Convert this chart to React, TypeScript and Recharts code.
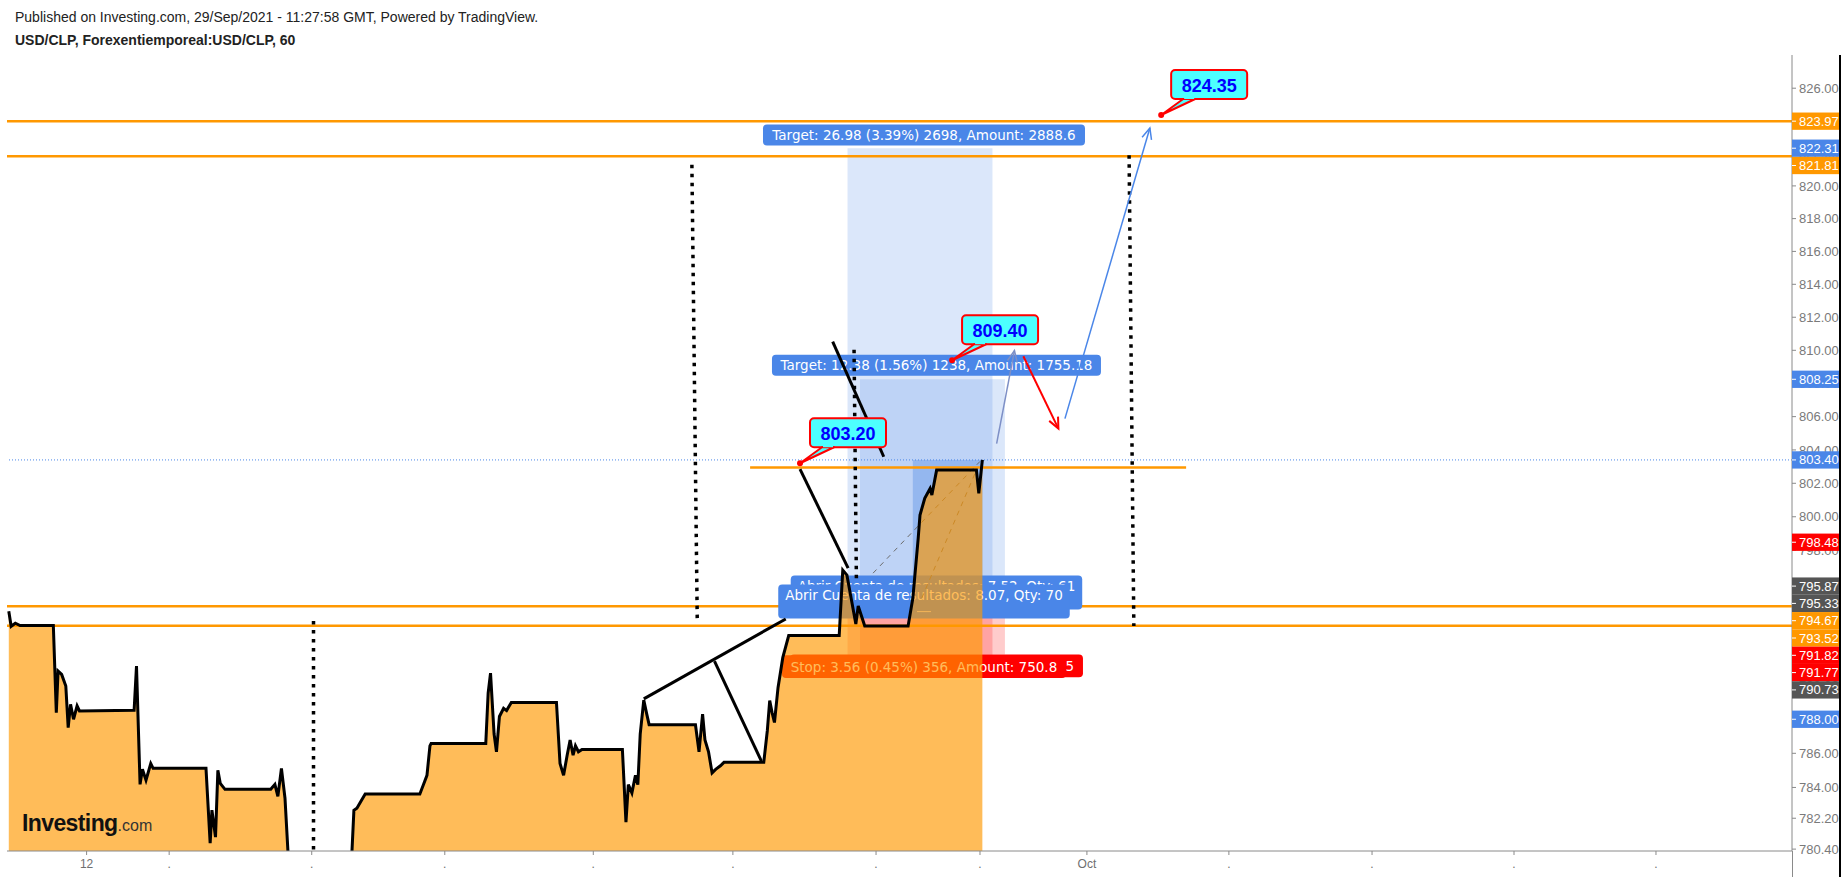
import React from 'react';
import {
  ComposedChart,
  Area,
  XAxis,
  YAxis,
  ReferenceLine,
  ReferenceArea,
  ReferenceDot,
} from 'recharts';

// ---------------- data ----------------
// time in hours since the first bar of the visible range
const hours = [
  0.3, 0.7, 1.4, 2.2, 7.8, 8.3, 8.6, 9.2, 9.9, 10.3, 10.7, 11.2, 11.8, 12.2, 21.4, 21.8, 22.4, 22.8, 23.4,
  24.2, 24.6, 33.5, 34.2, 34.5, 35.1, 35.5, 35.9, 36.7, 44.4, 45.1, 45.6, 46.2, 46.8, 47.5, 57.9, 58.4,
  58.9, 60.3, 69.5, 70.1, 70.7, 71.2, 71.4, 80.6, 81.0, 81.4, 82.0, 82.4, 82.9, 83.6, 84.1, 84.9, 92.5,
  93.1, 93.7, 94.3, 94.8, 95.3, 95.7, 96.2, 96.8, 103.6, 104.2, 104.6, 105.2, 105.8, 106.2, 106.6, 107.2,
  107.7, 108.1, 115.9, 116.5, 117.1, 117.5, 118.1, 118.7, 119.3, 120.1, 120.7, 127.4, 128.0, 128.4,
  128.8, 129.2, 129.8, 130.6, 131.6, 140.1, 140.7, 141.4, 142.9, 143.3, 144.4, 151.7, 152.5, 153.4,
  153.7, 154.5, 155.4, 155.7, 156.5, 163.2, 163.6, 164.2,
];
const prices = [
  794.38, 793.49, 793.67, 793.53, 793.53, 788.39, 790.84, 790.64, 789.96, 787.51, 788.88, 788.0, 788.79,
  788.49, 788.53, 791.14, 784.18, 785.06, 784.43, 785.4, 785.12, 785.12, 780.75, 782.67, 781.1, 785.0,
  784.24, 783.89, 783.89, 784.18, 783.48, 785.12, 783.37, 779.0, 779.0, 782.66, 782.79, 783.62, 783.62,
  784.16, 784.71, 786.44, 786.58, 786.58, 789.54, 790.72, 787.13, 786.09, 788.16, 788.64, 788.51,
  788.99, 788.99, 785.4, 784.71, 785.89, 786.78, 785.89, 786.44, 786.09, 786.23, 786.23, 781.97,
  784.16, 783.68, 784.71, 784.16, 787.13, 789.13, 788.3, 787.68, 787.68, 786.09, 788.3, 786.78, 786.09,
  784.85, 785.06, 785.27, 785.47, 785.47, 787.34, 789.1, 788.39, 787.81, 789.86, 791.63, 792.94,
  792.94, 796.82, 796.52, 793.62, 794.69, 793.5, 793.5, 795.16, 798.72, 800.1, 801.1, 801.69, 801.3,
  802.79, 802.79, 801.4, 803.4,
];

const xTicks = [13.4, 27.3, 51.3, 73.7, 98.7, 122.2, 146.3, 163.8, 181.8, 205.7, 229.8, 253.7, 277.6];
const xTickLabels = ['12', '.', '.', '.', '.', '.', '.', '.', 'Oct', '.', '.', '.', '.'];
const yTicks = [
  826, 824, 822, 820, 818, 816, 814, 812, 810, 808, 806, 804, 802, 800, 798, 796, 794, 792, 790, 788, 786,
  784, 782.2, 780.4,
];

const levelPrices = [823.97, 821.81, 794.67, 793.52];
const lastPrice = 803.4;
const shortLevel = [125.1, 198.5, 802.95];

const axisTagPrices = [823.97, 822.31, 821.81, 808.25, 803.4, 798.48, 795.87, 795.33, 794.67, 793.52, 791.82, 791.77, 790.73, 788.0];
const axisTagKinds = ['level', 'target', 'level', 'target', 'last', 'stop', 'entry', 'entry', 'level', 'level', 'stop', 'stop', 'entry', 'target'];

// [h1, p1, h2, p2]
const trendLines = [
  [107.2, 789.2, 131.1, 793.92],
  [119.1, 791.42, 127.0, 785.54],
  [133.5, 802.85, 141.6, 796.94],
  [139.0, 810.52, 147.6, 803.59],
];
const dottedLines = [
  [51.6, 793.8, 51.6, 780.3],
  [115.3, 821.3, 116.2, 793.9],
  [142.6, 810.03, 143.0, 796.05],
  [188.9, 821.88, 189.7, 793.5],
];
const dashedLines = [
  [145.8, 796.64, 163.8, 803.31],
  [154.0, 795.16, 163.2, 802.79],
];
const arrowLines = [
  [166.6, 804.38, 169.6, 809.98],
  [171.1, 809.64, 177.0, 805.28],
  [178.1, 805.88, 192.4, 823.55],
];
const arrowKinds = ['slate', 'red', 'blue'];

const calloutPoints = [
  [133.5, 803.2],
  [159.1, 809.4],
  [194.3, 824.35],
];
const calloutTexts = ['803.20', '809.40', '824.35'];

// two long-position tools (A in front, B behind)
const toolStarts = [141.5, 143.6];
const toolEnds = [165.9, 168.0];
const toolEntries = [795.33, 795.87];
const toolTargets = [822.31, 808.25];
const toolStops = [791.77, 791.82];
const profitSpan = [152.5, 164.2];
const targetTexts = ['Target: 26.98 (3.39%) 2698, Amount: 2888.6', 'Target: 12.38 (1.56%) 1238, Amount: 1755.18'];
const openTexts = ['Abrir Cuenta de resultados: 8.07, Qty: 70', 'Abrir Cuenta de resultados: 7.52, Qty: 61'];
const stopTexts = ['Stop: 3.56 (0.45%) 356, Amount: 750.8', 'Stop: 4.05 (0.51%) 405, Amount: 750.85'];

const data = hours.map((h, i) => ({ h, price: prices[i] }));

// ---------------- layout / style ----------------
const W = 1848;
const H = 877;
const H_MAX = 300.5;
const PRICE_MIN = 780.29;
const PRICE_MAX = 828.05;
const PLOT_TOP = 55;
const PLOT_BOTTOM = 851;
const TAG_H = 17.3;
const FONT_SANS = "'Liberation Sans', Arial, Helvetica, sans-serif";
const FONT_TV = "'DejaVu Sans', Verdana, sans-serif";
const ORANGE = '#ff9800';
const BLUE = '#4a86e8';

const Z_ZONES = 10;
const Z_LEVELS = 20;
const Z_TOOL_LABELS = 30;
const Z_TOOL_LINES = 40;
const Z_PRICE = 100;
const Z_DRAWINGS = 400;
const Z_CALLOUTS = 450;
const Z_TAGS = 3000;

const tagColors: Record<string, string> = {
  level: ORANGE,
  target: BLUE,
  last: BLUE,
  stop: '#ff0000',
  entry: '#555555',
};
const arrowColors: Record<string, string> = { slate: '#7d8fc6', red: '#ff0000', blue: BLUE };

// push overlapping price tags apart (like the price scale does)
const lnRange = Math.log(PRICE_MAX) - Math.log(PRICE_MIN);
const approxY = (p: number) => PLOT_TOP + ((PLOT_BOTTOM - PLOT_TOP) * (Math.log(PRICE_MAX) - Math.log(p))) / lnRange;
const tagOffsets = (() => {
  const idx = axisTagPrices.map((_, i) => i).sort((a, b) => axisTagPrices[b] - axisTagPrices[a]);
  const out = new Array(axisTagPrices.length).fill(0);
  let prev = -Infinity;
  for (const i of idx) {
    const y0 = approxY(axisTagPrices[i]);
    const y = Math.max(y0, prev + TAG_H);
    out[i] = y - y0;
    prev = y;
  }
  return out;
})();

const axisTagShape = (i: number) => (p: any) => {
  const { cx, cy } = p;
  const y = cy + tagOffsets[i];
  return (
    <g>
      <rect x={cx} y={y - TAG_H / 2} width={48} height={TAG_H} fill={tagColors[axisTagKinds[i]]} />
      <line x1={cx} x2={cx + 4} y1={y} y2={y} stroke="#ffffff" strokeWidth={1} />
      <text x={cx + 7} y={y} dominantBaseline="central" fill="#ffffff" fontSize={13} fontFamily={FONT_SANS}>
        {axisTagPrices[i].toFixed(2)}
      </text>
    </g>
  );
};

const calloutShape = (text: string) => (p: any) => {
  const { cx, cy } = p;
  const bx = cx + 10;
  const by = cy - 45;
  const bw = 76;
  const bh = 29;
  return (
    <g>
      <rect x={bx} y={by} width={bw} height={bh} rx={4} fill="#4dffff" stroke="#ff0000" strokeWidth={2} />
      <polygon
        points={`${cx},${cy} ${bx + 12},${by + bh} ${bx + 24},${by + bh}`}
        fill="#4dffff"
        stroke="#ff0000"
        strokeWidth={2}
        strokeLinejoin="round"
      />
      <rect x={bx + 13} y={by + bh - 3} width={10} height={3} fill="#4dffff" />
      <circle cx={cx} cy={cy} r={3} fill="#ff0000" />
      <text
        x={bx + bw / 2}
        y={by + bh / 2 + 1}
        textAnchor="middle"
        dominantBaseline="central"
        fill="#0000ff"
        fontSize={18}
        fontWeight="bold"
        fontFamily={FONT_SANS}
      >
        {text}
      </text>
    </g>
  );
};

const tagShape = (text: string, w: number, h: number, dx: number, dy: number, bg: string, twoLine: boolean) => (p: any) => {
  const { cx, cy } = p;
  const x = cx + dx - w / 2;
  const y = cy + dy;
  return (
    <g>
      <rect x={x} y={y} width={w} height={h} rx={4} fill={bg} />
      <text
        x={x + w / 2}
        y={twoLine ? y + 10.6 : y + h / 2}
        textAnchor="middle"
        dominantBaseline="central"
        fill="#ffffff"
        fontSize={13.5}
        fontFamily={FONT_TV}
      >
        {text}
      </text>
      {twoLine ? <line x1={x + w / 2 - 7} x2={x + w / 2 + 7} y1={y + 27} y2={y + 27} stroke="#dfe8f8" strokeWidth={1} /> : null}
    </g>
  );
};

const arrowShape = (color: string, width: number) => (p: any) => {
  const { x1, y1, x2, y2 } = p;
  const ang = Math.atan2(y2 - y1, x2 - x1);
  const L = 12;
  const A = 0.42;
  const a1x = x2 - L * Math.cos(ang - A);
  const a1y = y2 - L * Math.sin(ang - A);
  const a2x = x2 - L * Math.cos(ang + A);
  const a2y = y2 - L * Math.sin(ang + A);
  return (
    <g>
      <line x1={x1} y1={y1} x2={x2} y2={y2} stroke={color} strokeWidth={width} />
      <polyline points={`${a1x},${a1y} ${x2},${y2} ${a2x},${a2y}`} fill="none" stroke={color} strokeWidth={width} />
    </g>
  );
};

const seg = (s: number[]) => [
  { x: s[0], y: s[1] },
  { x: s[2], y: s[3] },
];

export default function App() {
  const toolCenters = toolStarts.map((s, i) => (s + toolEnds[i]) / 2);
  const anyProps: any = {};
  return (
    <div style={{ position: 'relative', width: W, height: H, overflow: 'hidden', background: '#ffffff' }}>
      <style>{'html,body{margin:0;padding:0;overflow:hidden;background:#fff;}'}</style>
      <ComposedChart width={W} height={H} data={data} margin={{ top: PLOT_TOP, right: 0, bottom: 0, left: 7 }}>
        <XAxis
          dataKey="h"
          type="number"
          domain={[0, H_MAX]}
          allowDataOverflow
          ticks={xTicks}
          interval={0}
          height={26}
          tickSize={4}
          tickMargin={4}
          tickFormatter={(v: number) => xTickLabels[xTicks.indexOf(v)] ?? ''}
          axisLine={{ stroke: '#8a8a8a' }}
          tickLine={{ stroke: '#8a8a8a' }}
          tick={{ fill: '#6f6f6f', fontSize: 12, fontFamily: FONT_SANS }}
        />
        <YAxis
          orientation="right"
          type="number"
          scale="log"
          domain={[PRICE_MIN, PRICE_MAX]}
          allowDataOverflow
          ticks={yTicks}
          interval={0}
          width={56}
          tickSize={4}
          tickMargin={3}
          tickFormatter={(v: number) => v.toFixed(2)}
          axisLine={{ stroke: '#8a8a8a' }}
          tickLine={{ stroke: '#8a8a8a' }}
          tick={{ fill: '#7a7a7a', fontSize: 13, fontFamily: FONT_SANS }}
        />

        {/* position tools: zones */}
        {[1, 0].map((i) => (
          <ReferenceArea
            key={`tg${i}`}
            {...anyProps}
            zIndex={Z_ZONES}
            x1={toolStarts[i]}
            x2={toolEnds[i]}
            y1={toolEntries[i]}
            y2={toolTargets[i]}
            fill={BLUE}
            fillOpacity={0.2}
            stroke="none"
            ifOverflow="visible"
          />
        ))}
        {[1, 0].map((i) => (
          <ReferenceArea
            key={`st${i}`}
            {...anyProps}
            zIndex={Z_ZONES}
            x1={toolStarts[i]}
            x2={toolEnds[i]}
            y1={toolStops[i]}
            y2={toolEntries[i]}
            fill="#ff0000"
            fillOpacity={0.2}
            stroke="none"
            ifOverflow="visible"
          />
        ))}
        {[1, 0].map((i) => (
          <ReferenceArea
            key={`pf${i}`}
            {...anyProps}
            zIndex={Z_ZONES}
            x1={profitSpan[0]}
            x2={profitSpan[1]}
            y1={toolEntries[i]}
            y2={lastPrice}
            fill={BLUE}
            fillOpacity={0.2}
            stroke="none"
            ifOverflow="visible"
          />
        ))}

        {/* horizontal levels */}
        {levelPrices.map((p) => (
          <ReferenceLine key={`lv${p}`} {...anyProps} zIndex={Z_LEVELS} y={p} stroke={ORANGE} strokeWidth={2.5} ifOverflow="visible" />
        ))}
        <ReferenceLine
          {...anyProps}
          zIndex={Z_LEVELS}
          y={lastPrice}
          stroke={BLUE}
          strokeWidth={1}
          strokeDasharray="1 2"
          ifOverflow="visible"
        />
        <ReferenceLine
          {...anyProps}
          zIndex={Z_LEVELS}
          segment={[
            { x: shortLevel[0], y: shortLevel[2] },
            { x: shortLevel[1], y: shortLevel[2] },
          ]}
          stroke={ORANGE}
          strokeWidth={2.5}
          ifOverflow="visible"
        />

        {/* position tool labels (B behind, A in front) */}
        {[1, 0].map((i) => (
          <ReferenceDot
            key={`tt${i}`}
            {...anyProps}
            zIndex={Z_TOOL_LABELS}
            x={toolCenters[i]}
            y={toolTargets[i]}
            ifOverflow="visible"
            shape={tagShape(targetTexts[i], i === 0 ? 322 : 329, 21, 4, i === 0 ? -23.6 : -24.5, BLUE, false)}
          />
        ))}
        {[1, 0].map((i) => (
          <ReferenceDot
            key={`ot${i}`}
            {...anyProps}
            zIndex={Z_TOOL_LABELS}
            x={toolCenters[i]}
            y={toolEntries[i]}
            ifOverflow="visible"
            shape={tagShape(openTexts[i], 291.5, 34, 4, -10.6, BLUE, true)}
          />
        ))}
        {[1, 0].map((i) => (
          <ReferenceDot
            key={`sl${i}`}
            {...anyProps}
            zIndex={Z_TOOL_LABELS}
            x={toolCenters[i]}
            y={toolStops[i]}
            ifOverflow="visible"
            shape={tagShape(stopTexts[i], i === 0 ? 284 : 293, 22.7, 4, 0, '#ff0000', false)}
          />
        ))}
        {dashedLines.map((s, i) => (
          <ReferenceLine
            key={`ds${i}`}
            {...anyProps}
            zIndex={Z_TOOL_LINES}
            segment={seg(s)}
            stroke="#6b6b6b"
            strokeWidth={1}
            strokeDasharray="5 5"
            ifOverflow="visible"
          />
        ))}

        {/* price */}
        <Area
          {...anyProps}
          zIndex={Z_PRICE}
          type="linear"
          dataKey="price"
          stroke="#000000"
          strokeWidth={3}
          fill={ORANGE}
          fillOpacity={0.65}
          dot={false}
          activeDot={false}
          isAnimationActive={false}
        />

        {/* drawings */}
        {trendLines.map((s, i) => (
          <ReferenceLine key={`tl${i}`} {...anyProps} zIndex={Z_DRAWINGS} segment={seg(s)} stroke="#000000" strokeWidth={3} ifOverflow="visible" />
        ))}
        {dottedLines.map((s, i) => (
          <ReferenceLine
            key={`dl${i}`}
            {...anyProps}
            zIndex={Z_DRAWINGS}
            segment={seg(s)}
            stroke="#000000"
            strokeWidth={3.5}
            strokeDasharray="3.5 5.5"
            ifOverflow="visible"
          />
        ))}
        {arrowLines.map((s, i) => (
          <ReferenceLine
            key={`ar${i}`}
            {...anyProps}
            zIndex={Z_DRAWINGS}
            segment={seg(s)}
            ifOverflow="visible"
            shape={arrowShape(arrowColors[arrowKinds[i]], arrowKinds[i] === 'red' ? 2 : 1.5)}
          />
        ))}
        {calloutPoints.map((c, i) => (
          <ReferenceDot
            key={`co${i}`}
            {...anyProps}
            zIndex={Z_CALLOUTS}
            x={c[0]}
            y={c[1]}
            ifOverflow="visible"
            shape={calloutShape(calloutTexts[i])}
          />
        ))}

        {/* price scale tags */}
        {axisTagPrices.map((p, i) => (
          <ReferenceDot key={`ax${i}`} {...anyProps} zIndex={Z_TAGS} x={H_MAX} y={p} ifOverflow="visible" shape={axisTagShape(i)} />
        ))}
      </ComposedChart>

      {/* frame pieces */}
      <div style={{ position: 'absolute', left: 1792, top: PLOT_BOTTOM, width: 1, height: H - PLOT_BOTTOM, background: '#8a8a8a' }} />
      <div style={{ position: 'absolute', left: 1839, top: PLOT_TOP, width: 2, height: H - PLOT_TOP, background: '#000' }} />

      {/* header */}
      <div
        style={{
          position: 'absolute',
          left: 15,
          top: 9,
          fontFamily: FONT_SANS,
          fontSize: 14,
          color: '#222',
          whiteSpace: 'nowrap',
        }}
      >
        Published on Investing.com, 29/Sep/2021 - 11:27:58 GMT, Powered by TradingView.
      </div>
      <div
        style={{
          position: 'absolute',
          left: 15,
          top: 32,
          fontFamily: FONT_SANS,
          fontSize: 14,
          fontWeight: 'bold',
          color: '#222',
          whiteSpace: 'nowrap',
        }}
      >
        USD/CLP, Forexentiemporeal:USD/CLP, 60
      </div>

      {/* watermark */}
      <div
        style={{
          position: 'absolute',
          left: 22,
          top: 809,
          fontFamily: FONT_SANS,
          whiteSpace: 'nowrap',
          color: '#111',
          lineHeight: '28px',
        }}
      >
        <span style={{ fontSize: 23, fontWeight: 'bold', letterSpacing: -0.6 }}>Investing</span>
        <span style={{ fontSize: 16, color: '#333' }}>.com</span>
      </div>
    </div>
  );
}
